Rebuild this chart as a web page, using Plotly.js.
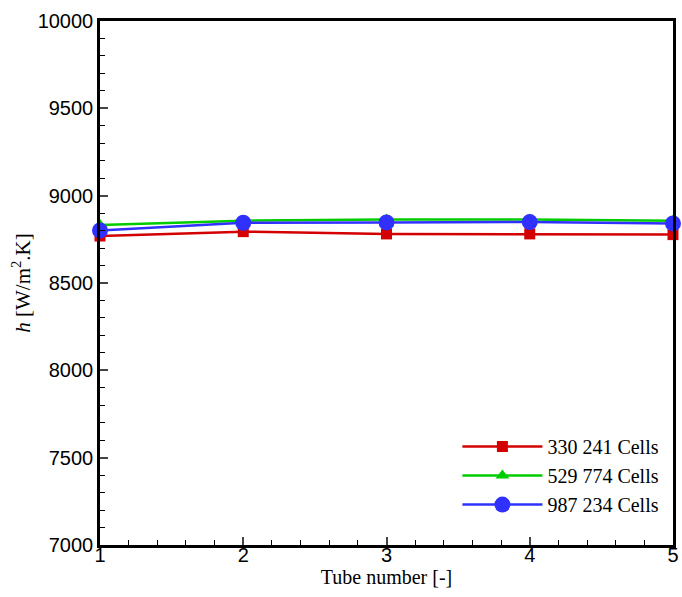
<!DOCTYPE html>
<html><head><meta charset="utf-8">
<script src="https://cdn.plot.ly/plotly-3.0.1.min.js"></script>
<style>body{margin:0;background:#fff}#c{width:682px;height:597px}</style>
</head><body><div id="c"></div>
<script>
const tubes = [1, 2, 3, 4, 5];
const cells330 = [8769, 8794, 8781, 8781, 8777];
const cells529 = [8832, 8857, 8863, 8863, 8857];
const cells987 = [8801, 8845, 8847, 8849, 8841];
const names = ['330 241 Cells', '529 774 Cells', '987 234 Cells'];
const colors = ['#d40000', '#00cc00', '#3030ff'];
const symbols = ['square', 'triangle-up', 'circle'];
const sizes = [11, 12, 16];
const series = [cells330, cells529, cells987];

const traces = series.map((ys, i) => ({
  x: tubes, y: ys, name: names[i], type: 'scatter', mode: 'lines+markers',
  line: {color: colors[i], width: 2.5},
  marker: {color: colors[i], symbol: symbols[i], size: sizes[i]},
  cliponaxis: false
}));

const layout = {
  width: 682, height: 597,
  margin: {l: 100, r: 9, t: 21, b: 52},
  paper_bgcolor: '#fff', plot_bgcolor: '#fff',
  showlegend: true,
  legend: {x: 0.985, xanchor: 'right', y: 0.04, yanchor: 'bottom',
    font: {family: 'Liberation Serif, Times New Roman, serif', size: 20, color: '#000'},
    bgcolor: 'rgba(0,0,0,0)', itemwidth: 80, tracegroupgap: 0},
  xaxis: {range: [1, 5], tickvals: [1,2,3,4,5], ticks: 'inside', ticklen: 8, tickwidth: 2,
    ticklabelposition: 'outside', ticklabelstandoff: -10,
    showline: true, linewidth: 2.5, linecolor: '#000', mirror: true, showgrid: false, zeroline: false,
    minor: {dtick: 0.2, ticks: 'inside', ticklen: 5, tickwidth: 1, tickcolor: '#000'},
    tickfont: {family: 'Liberation Sans, Arial, sans-serif', size: 20, color: '#000'},
    title: {text: 'Tube number [-]', standoff: 2, font: {family: 'Liberation Serif, Times New Roman, serif', size: 20, color: '#000'}}},
  yaxis: {range: [7000, 10000], dtick: 500, tickformat: 'd', ticks: 'inside', ticklen: 8, tickwidth: 2,
    showline: true, linewidth: 2.5, linecolor: '#000', mirror: true, showgrid: false, zeroline: false,
    minor: {dtick: 100, ticks: 'inside', ticklen: 5, tickwidth: 1, tickcolor: '#000'},
    tickfont: {family: 'Liberation Sans, Arial, sans-serif', size: 20, color: '#000'},
    title: {text: '<i>h</i> [W/m<sup>2</sup>.K]', standoff: 2, font: {family: 'Liberation Serif, Times New Roman, serif', size: 21, color: '#000'}}}
};
Plotly.newPlot('c', traces, layout, {displayModeBar: false});
</script></body></html>
